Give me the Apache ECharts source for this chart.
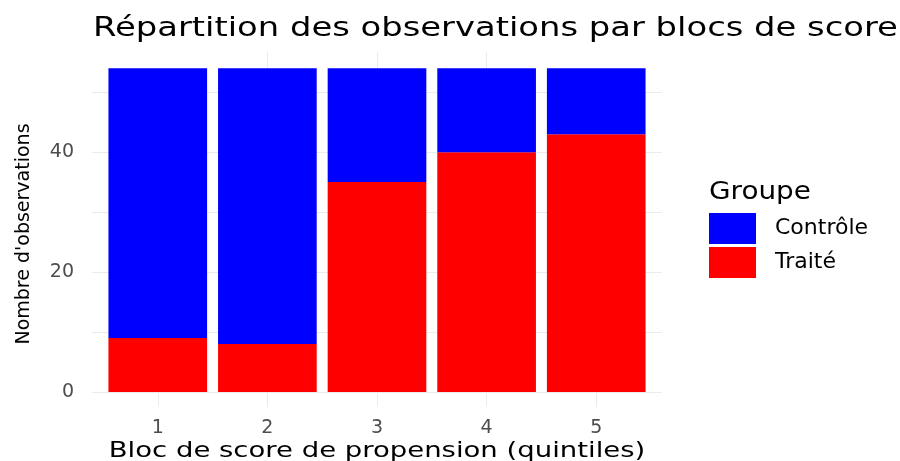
<!DOCTYPE html>
<html>
<head>
<meta charset="utf-8">
<script src="https://cdn.jsdelivr.net/npm/echarts@6/dist/echarts.min.js"></script>
<style>
  html, body { margin: 0; padding: 0; background: #fff; }
  #chart { width: 900px; height: 461px; }
</style>
</head>
<body>
<div id="chart"></div>
<script>
// blocs de score (quintiles)
var blocs = [1, 2, 3, 4, 5]
var traite = [9, 8, 35, 40, 43]
var controle = [45, 46, 19, 14, 11]
var yTicks = [0, 20, 40]

var font = 'DejaVu Sans'
var chart = echarts.init(document.getElementById('chart'))

// panel: x from 0.4 to 5.6 (ggplot expansion), y from 0 to 56.7
var panel = { left: 92, right: 238, top: 52, bottom: 69 }
var unit = (900 - panel.left - panel.right) / 5.2

chart.setOption({
  animation: false,
  textStyle: { fontFamily: font },
  graphic: [
    {
      type: 'text',
      x: 93,
      y: 16,
      scaleX: 1.3,
      style: {
        text: 'Répartition des observations par blocs de score',
        fontSize: 26,
        fontFamily: font,
        fill: '#000',
        textAlign: 'left',
        textVerticalAlign: 'top'
      }
    },
    {
      type: 'text',
      x: 377,
      y: 440,
      scaleX: 1.25,
      style: {
        text: 'Bloc de score de propension (quintiles)',
        fontSize: 22,
        fontFamily: font,
        fill: '#000',
        textAlign: 'center',
        textVerticalAlign: 'top'
      }
    },
    {
      type: 'text',
      x: 709,
      y: 181,
      scaleX: 1.16,
      style: {
        text: 'Groupe',
        fontSize: 24,
        fontFamily: font,
        fill: '#000',
        textAlign: 'left',
        textVerticalAlign: 'top'
      }
    }
  ],
  legend: {
    data: ['Contrôle', 'Traité'],
    orient: 'vertical',
    left: 704,
    top: 208,
    itemWidth: 47,
    itemHeight: 31,
    itemGap: 3,
    icon: 'rect',
    textStyle: { fontSize: 22, color: '#000', padding: [9, 0, 0, 14], fontFamily: font }
  },
  grid: [
    panel,
    {
      left: panel.left + 0.1 * unit,
      right: panel.right + 0.1 * unit,
      top: panel.top,
      bottom: panel.bottom
    }
  ],
  xAxis: [
    {
      type: 'value',
      gridIndex: 0,
      min: 0.4,
      max: 5.6,
      splitNumber: 5,
      axisLine: { show: false },
      axisTick: {
        show: true,
        customValues: blocs,
        length: 15,
        lineStyle: { color: '#ebebeb', width: 1 }
      },
      axisLabel: {
        customValues: blocs,
        margin: 27,
        fontSize: 19,
        color: '#4d4d4d',
        fontFamily: font
      },
      splitLine: {
        show: true,
        showMinLine: false,
        showMaxLine: false,
        lineStyle: { color: '#ebebeb', width: 1 }
      }
    },
    {
      type: 'category',
      gridIndex: 1,
      data: blocs,
      show: false
    }
  ],
  yAxis: [
    {
      type: 'value',
      gridIndex: 0,
      min: 0,
      max: 56.7,
      interval: 10,
      name: "Nombre d'observations",
      nameLocation: 'middle',
      nameRotate: 90,
      nameGap: 58,
      nameTextStyle: { fontSize: 19, color: '#000', padding: [0, 24, 0, 0], fontFamily: font },
      axisLine: { show: false },
      axisTick: { show: false },
      axisLabel: {
        margin: 18,
        fontSize: 19,
        color: '#4d4d4d',
        fontFamily: font,
        formatter: function (v) {
          return yTicks.indexOf(v) >= 0 ? String(v) : ''
        }
      },
      splitLine: {
        show: true,
        showMaxLine: false,
        lineStyle: { color: '#ebebeb', width: 1 }
      }
    },
    {
      type: 'value',
      gridIndex: 1,
      min: 0,
      max: 56.7,
      show: false,
      splitLine: { show: false }
    }
  ],
  series: [
    {
      name: 'Traité',
      type: 'bar',
      xAxisIndex: 1,
      yAxisIndex: 1,
      stack: 'total',
      barWidth: '90%',
      itemStyle: { color: '#ff0000' },
      data: traite
    },
    {
      name: 'Contrôle',
      type: 'bar',
      xAxisIndex: 1,
      yAxisIndex: 1,
      stack: 'total',
      barWidth: '90%',
      itemStyle: { color: '#0000ff' },
      data: controle
    }
  ]
})
</script>
</body>
</html>
